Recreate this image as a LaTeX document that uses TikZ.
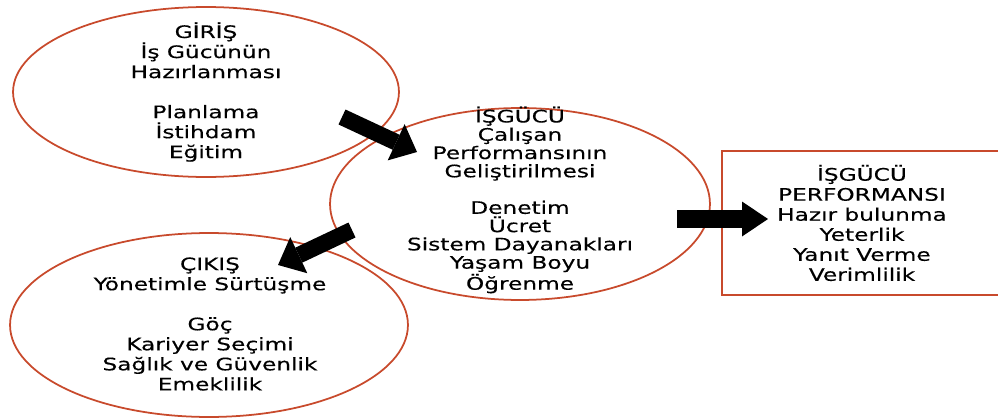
\documentclass[tikz,border=0pt]{standalone}
\usepackage{fontspec}
\setmainfont{DejaVu Sans}[FakeStretch=1.35, FakeBold=0.3]
\usepackage{xcolor}
\usetikzlibrary{shapes.geometric, arrows.meta}
\definecolor{rim}{RGB}{200,74,44}

\begin{document}
\begin{tikzpicture}[x=0.02cm, y=-0.02cm,
    blob/.style={draw=rim, line width=1pt, ellipse, inner sep=0pt},
    txt/.style={align=center, inner sep=0pt, font=\fontsize{9.8}{11.4}\selectfont},
    bigarrow/.style={line width=0.33cm, -{Triangle[length=0.46cm, width=0.8cm, line width=0pt]}}]
    \useasboundingbox (0,0) rectangle (998,419);

    \node[blob, minimum width=7.72cm, minimum height=3.4cm] (giris) at (206,92) {};
    \node[txt] (giristxt) at (giris) {GİRİŞ\\İş Gücünün\\Hazırlanması\\[11.4pt]Planlama\\İstihdam\\Eğitim};

    \node[blob, minimum width=7.6cm, minimum height=3.84cm] (isgucu) at (520,204) {};
    \node[txt, font=\fontsize{9.8}{10.4}\selectfont] (isgucutxt) at (520,200) {İŞGÜCÜ\\Çalışan\\Performansının\\Geliştirilmesi\\[10.4pt]Denetim\\Ücret\\Sistem Dayanakları\\Yaşam Boyu\\Öğrenme};

    \node[blob, minimum width=7.96cm, minimum height=3.68cm] (cikis) at (209,325) {};
    \node[txt] (cikistxt) at (210,324) {ÇIKIŞ\\Yönetimle Sürtüşme\\[11.4pt]Göç\\Kariyer Seçimi\\Sağlık ve Güvenlik\\Emeklilik};

    \node[txt, draw=rim, line width=1.2pt, minimum width=5.6cm, minimum height=2.88cm] (perf) at (862,223) {İŞGÜCÜ\\PERFORMANSI\\Hazır bulunma\\Yeterlik\\Yanıt Verme\\Verimlilik};

    \coordinate (a1s) at (342,117);
    \coordinate (a1e) at (417,152);
    \coordinate (a2s) at (352,230);
    \coordinate (a2e) at (278,265);
    \coordinate (a3s) at (677,219);
    \coordinate (a3e) at (768,219);

    \draw[bigarrow] (a1s) -- (a1e);
    \draw[bigarrow] (a2s) -- (a2e);
    \draw[bigarrow, line width=0.36cm, -{Triangle[length=0.52cm, width=0.7cm, line width=0pt]}] (a3s) -- (a3e);
\end{tikzpicture}
\end{document}
